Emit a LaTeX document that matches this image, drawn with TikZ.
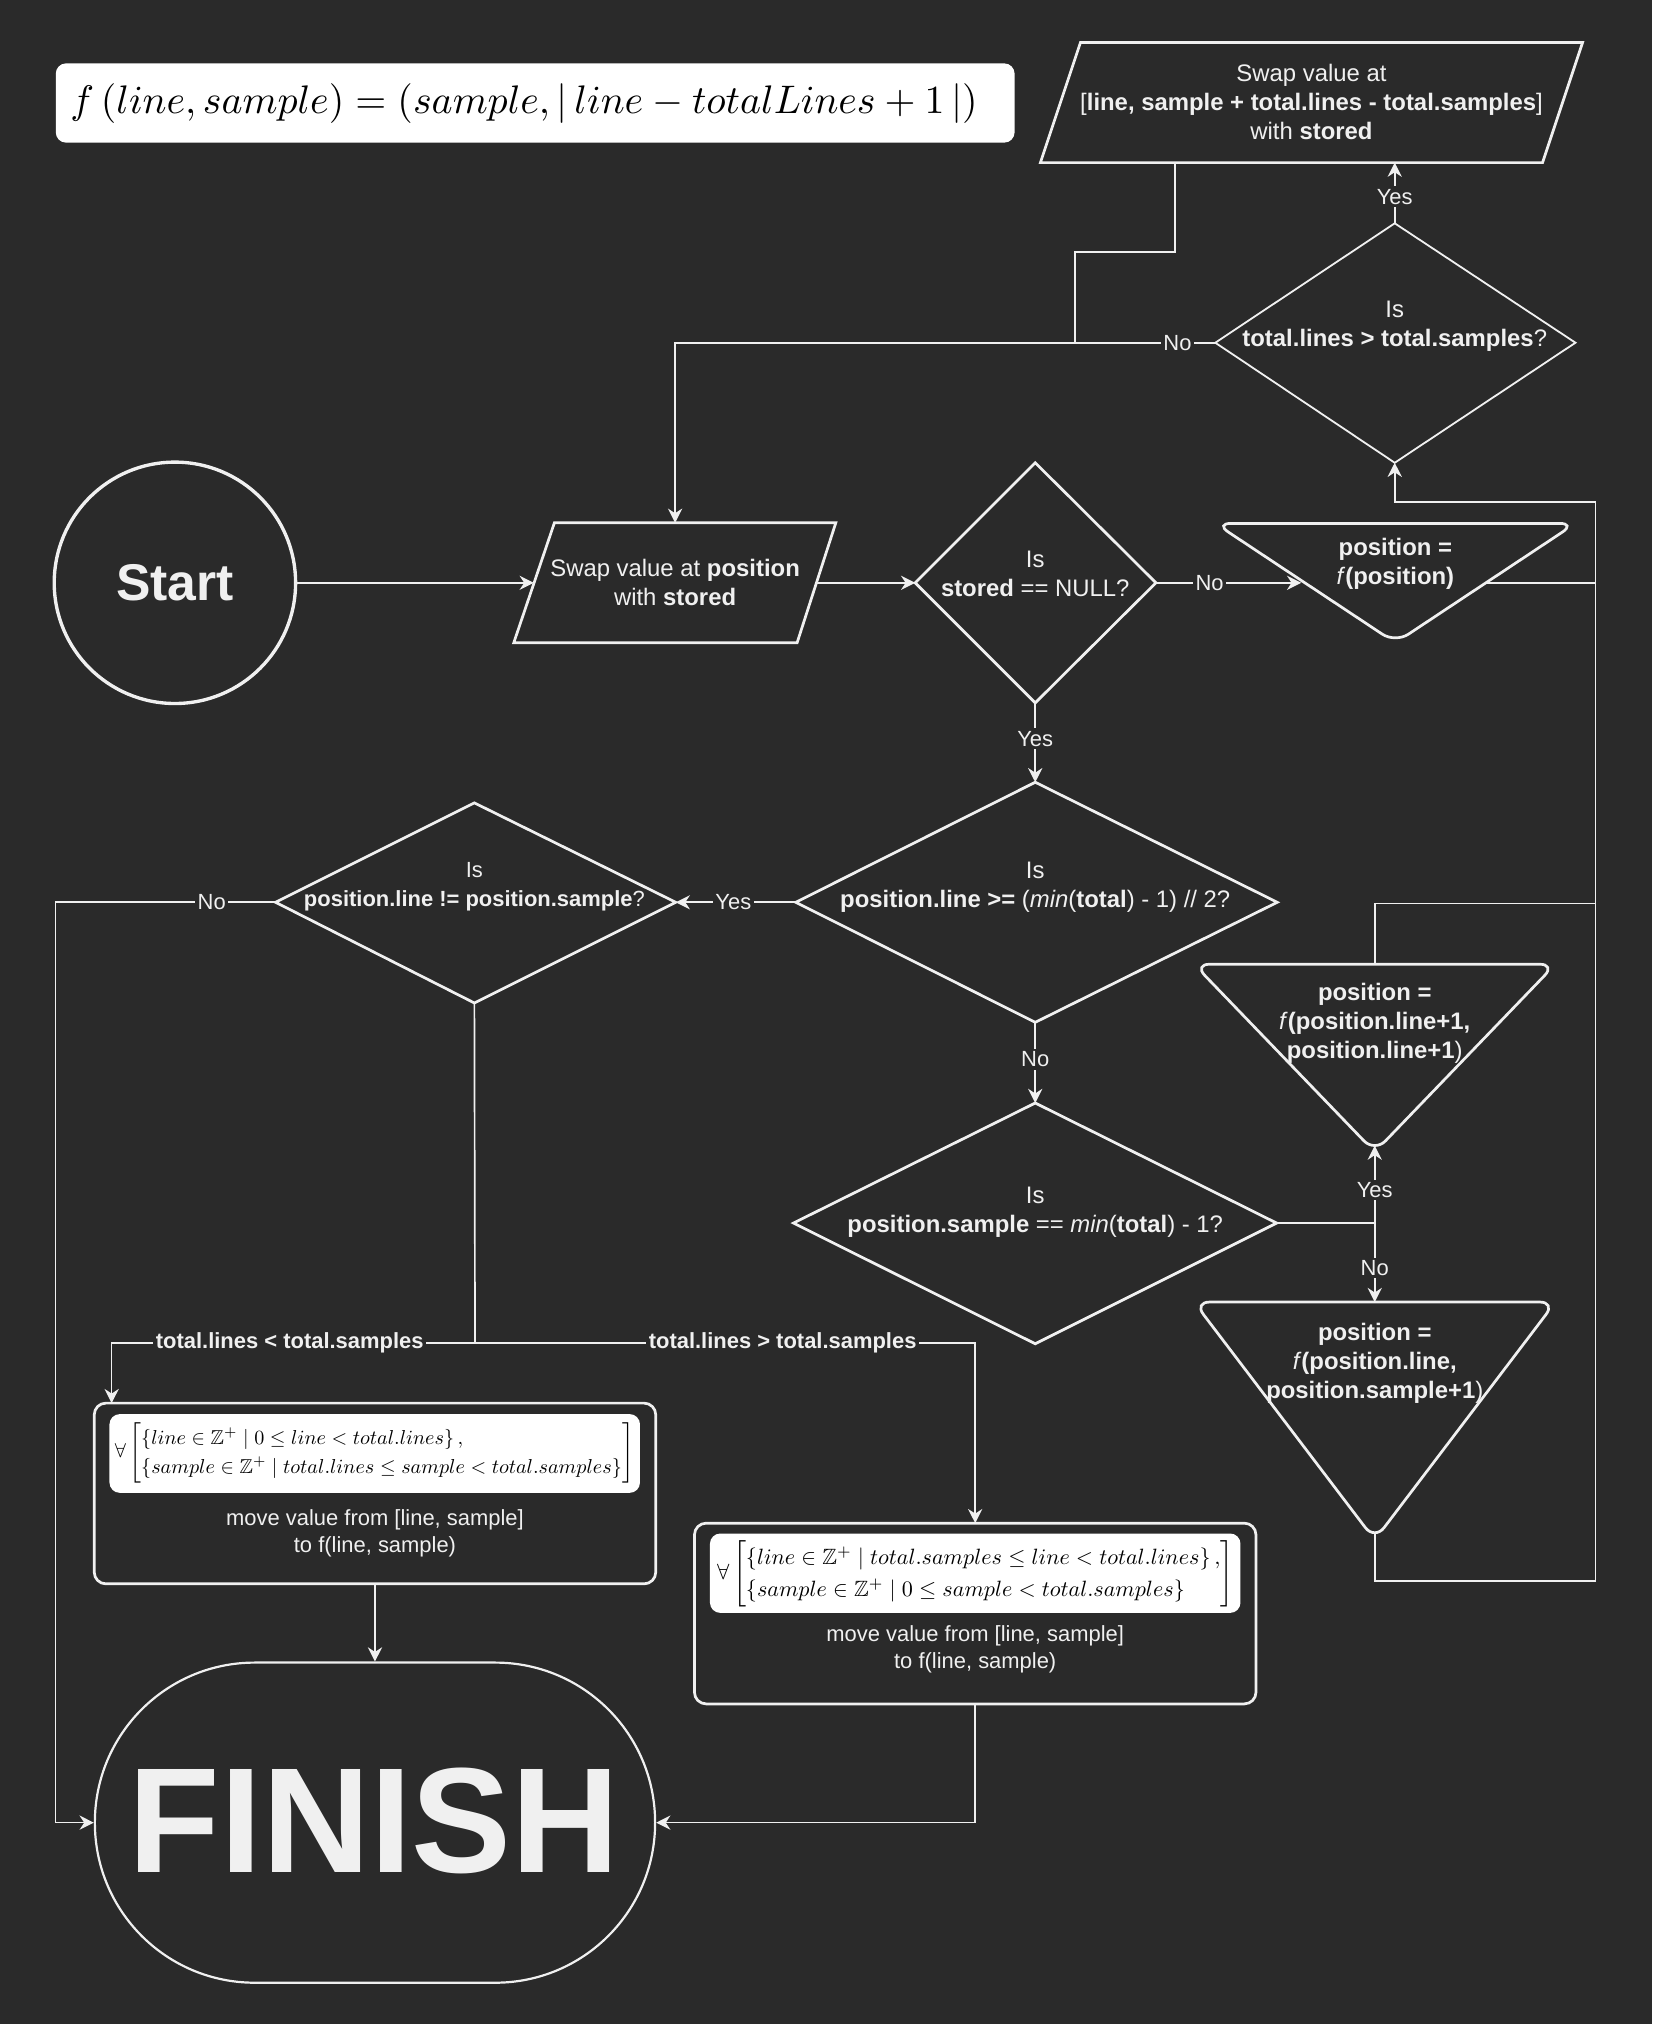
\documentclass[tikz,border=0pt]{standalone}
\usepackage{amsmath,amssymb}
\usepackage{graphicx}
\usepackage[no-math]{fontspec}
\setmainfont{Liberation Sans}
\usetikzlibrary{arrows.meta}
\definecolor{bgc}{HTML}{2A2A2A}
\definecolor{fgc}{HTML}{F0F0F0}
\renewcommand{\arraystretch}{1.2}
\begin{document}
\begin{tikzpicture}[x=0.5pt,y=-0.5pt,
  shp/.style={draw=fgc, line width=1.05pt, line join=miter},
  tri/.style={draw=fgc, line width=1.05pt, rounded corners=6pt},
  conn/.style={draw=fgc, line width=0.65pt},
  arr/.style={conn, -{Stealth[length=5.5pt,width=5.5pt,inset=1.8pt]}},
  txt/.style={text=fgc, align=center, inner sep=0pt, font=\fontsize{9.25}{11.25}\selectfont},
  lbl/.style={text=fgc, fill=bgc, inner sep=1pt, font=\fontsize{8.5}{10}\selectfont},
  blbl/.style={text=fgc, fill=bgc, inner sep=1pt, font=\bfseries\fontsize{8.5}{10}\selectfont},
  boxtxt/.style={text=fgc, align=center, inner sep=0pt, font=\fontsize{8.5}{10.3}\selectfont},
  mbox/.style={fill=white, rounded corners=4pt, inner sep=0pt},
  pbox/.style={draw=fgc, line width=1.05pt, rounded corners=4.5pt, inner sep=0pt},
]
\fill[bgc] (0,0) rectangle (1280,1568);
\useasboundingbox (0,0) rectangle (1280,1568);

% ---------- formula
\node[mbox, minimum width=371.4pt, minimum height=30.7pt] (fbox) at (414.6,79.8) {};
\node[inner sep=0pt, text=black] (formula) at (406,80) {\resizebox{351.4pt}{!}{$f\left(line, sample\right)=\left(sample,\left|\,line-totalLines+1\,\right|\right)$}};

% ---------- start
\node[circle, draw=fgc, line width=1.3pt, minimum size=93.5pt, inner sep=0pt, text=fgc, font=\bfseries\fontsize{20}{24}\selectfont] (start) at (135.5,451.5) {Start};

% ---------- swap position (p1)
\draw[shp] (429.5,405) -- (647.5,405) -- (617.5,498) -- (398,498) -- cycle;
\node[txt] (p1) at (523,451.5) {Swap value at \textbf{position}\\with \textbf{stored}};
\coordinate (p1n) at (523,405);
\coordinate (p1w) at (413.5,451.5);
\coordinate (p1e) at (632.5,451.5);

% ---------- d1 stored == NULL
\draw[shp] (802,358.5) -- (895.5,451.5) -- (802,544.5) -- (709,451.5) -- cycle;
\node[txt] (d1) at (802,444.5) {Is\\\textbf{stored} == NULL?};
\coordinate (d1e) at (895.5,451.5);
\coordinate (d1s) at (802,544.5);
\coordinate (d1w) at (709,451.5);

% ---------- t1
\draw[tri] (1081,405.5) -- (1220.5,405.5) -- (1081,498) -- (941.5,405.5) -- cycle;
\node[txt] (t1) at (1081,437) {\textbf{position =}\\\textit{f}\textbf{(position)}};
\coordinate (t1w) at (1008,451.5);
\coordinate (t1e) at (1151,451.5);

% ---------- d4 total.lines > total.samples
\draw[shp, line width=0.7pt] (1080.5,173) -- (1220.5,265.5) -- (1080.5,358.5) -- (941.5,265.5) -- cycle;
\node[txt] (d4) at (1080.5,253) {Is\\\textbf{total.lines > total.samples}?};
\coordinate (d4n) at (1080.5,173);
\coordinate (d4s) at (1080.5,358.5);
\coordinate (d4w) at (941.5,265.5);

% ---------- p2 top parallelogram
\draw[shp] (837,33) -- (1226,33) -- (1195,126) -- (806,126) -- cycle;
\node[txt] (p2) at (1016,79) {Swap value at\\{[}\textbf{line, sample + total.lines - total.samples}{]}\\with \textbf{stored}};
\coordinate (p2a) at (910.5,126);
\coordinate (p2s) at (1080.5,126);

% ---------- d2
\draw[shp] (802,606) -- (989.5,699) -- (802,792) -- (616.5,699) -- cycle;
\node[txt] (d2) at (802,687.5) {Is\\\textbf{position.line >=} (\textit{min}(\textbf{total}) - 1) // 2?};
\coordinate (d2n) at (802,606);
\coordinate (d2s) at (802,792);
\coordinate (d2w) at (616.5,699);

% ---------- d3
\draw[shp] (367.5,622) -- (523.5,699) -- (367.5,777) -- (213.5,699) -- cycle;
\node[txt, font=\fontsize{8.5}{11.25}\selectfont] (d3) at (367.5,687) {Is\\\textbf{position.line != position.sample}?};
\coordinate (d3e) at (523.5,699);
\coordinate (d3s) at (367.5,777);
\coordinate (d3w) at (213.5,699);

% ---------- d5
\draw[shp] (802,854.5) -- (989,947.5) -- (802,1041) -- (614.7,947.5) -- cycle;
\node[txt] (d5) at (802,939.5) {Is\\\textbf{position.sample} == \textit{min}(\textbf{total}) - 1?};
\coordinate (d5n) at (802,854.5);
\coordinate (d5e) at (989,947.5);

% ---------- t2
\draw[tri] (1065,747) -- (1205,747) -- (1065,892.5) -- (925,747) -- cycle;
\node[txt] (t2) at (1065,793) {\textbf{position =}\\\textit{f}\textbf{(position.line+1,}\\\textbf{position.line+1})};
\coordinate (t2n) at (1065,747);
\coordinate (t2s) at (1065,887.5);

% ---------- t3
\draw[tri] (1065,1008.7) -- (1205,1008.7) -- (1065,1193) -- (925,1008.7) -- cycle;
\node[txt] (t3) at (1065,1056) {\textbf{position =}\\\textit{f}\textbf{(position.line,}\\\textbf{position.sample+1})};
\coordinate (t3n) at (1065,1008.7);
\coordinate (t3s) at (1065,1187.5);

% ---------- box 1
\node[pbox, minimum width=217.5pt, minimum height=70pt] (box1) at (290.5,1157) {};
\node[mbox, minimum width=205.5pt, minimum height=30.5pt] (m1) at (290.3,1126) {};
\node[inner sep=0pt, text=black] (f1) at (290,1125.5) {\resizebox{201pt}{!}{$\forall\left[\begin{array}{@{}l@{}}\left\{line\in\mathbb{Z}^{+}\mid 0\leq line<total.lines\right\},\\ \left\{sample\in\mathbb{Z}^{+}\mid total.lines\leq sample<total.samples\right\}\end{array}\right]$}};
\node[boxtxt] (b1t) at (290.5,1188) {move value from [line, sample]\\to f(line, sample)};

% ---------- box 2
\node[pbox, minimum width=217.5pt, minimum height=70pt] (box2) at (755.5,1250) {};
\node[mbox, minimum width=205.5pt, minimum height=30.75pt] (m2) at (755.5,1218.75) {};
\node[inner sep=0pt, text=black] (f2) at (755.5,1219.5) {\resizebox{200pt}{!}{$\forall\left[\begin{array}{@{}l@{}}\left\{line\in\mathbb{Z}^{+}\mid total.samples\leq line<total.lines\right\},\\ \left\{sample\in\mathbb{Z}^{+}\mid 0\leq sample<total.samples\right\}\end{array}\right]$}};
\node[boxtxt] (b2t) at (755.5,1277.5) {move value from [line, sample]\\to f(line, sample)};

% ---------- finish
\node[draw=fgc, line width=0.85pt, rounded corners=61.9pt, minimum width=217pt, minimum height=124pt, inner sep=0pt] (fin) at (290.5,1412) {};
\node[text=fgc, inner sep=0pt, font=\bfseries\fontsize{58}{60}\selectfont] (fint) at (290,1411) {FINISH};

% ---------- connectors
\draw[arr] (start.east) -- (p1w);
\draw[arr] (p1e) -- (d1w);
\draw[arr] (d1e) -- node[lbl,pos=0.37]{No} (t1w);
\draw[arr] (d1s) -- node[lbl,pos=0.45]{Yes} (d2n);
\draw[arr] (d2w) -- node[lbl,pos=0.52]{Yes} (d3e);
\draw[arr] (d3w) -- node[lbl,pos=0.29]{No} (43,699) -- (43,1412) -- (fin.west);

\coordinate (br) at (368,1040.5);
\draw[conn] (d3s) -- (br);
\draw[arr] (br) -- node[blbl,pos=0.51]{total.lines < total.samples} (86.5,1040.5) -- (86.5,1087);
\draw[arr] (br) -- node[blbl,pos=0.615]{total.lines > total.samples} (755.5,1040.5) -- (755.5,1180);

\draw[arr] (d2s) -- node[lbl,pos=0.46]{No} (d5n);
\coordinate (j5) at (1065,947.5);
\draw[conn] (d5e) -- (j5);
\draw[arr] (j5) -- node[lbl,pos=0.43]{Yes} (t2s);
\draw[arr] (j5) -- node[lbl,pos=0.57]{No} (t3n);

\draw[conn] (t1e) -- (1236,451.5);
\draw[conn] (t2n) -- (1065,700) -- (1236,700);
\draw[arr] (t3s) -- (1065,1225) -- (1236,1225) -- (1236,389) -- (1080.5,389) -- (d4s);

\draw[arr] (d4n) -- node[lbl,pos=0.44]{Yes} (p2s);
\draw[arr] (d4w) -- node[lbl,pos=0.07]{No} (523,265.5) -- (p1n);
\draw[conn] (p2a) -- (910.5,195) -- (833,195) -- (833,265.5);

\draw[arr] (box1.south) -- (fin.north);
\draw[arr] (box2.south) -- (755.5,1412) -- (fin.east);
\end{tikzpicture}
\end{document}
